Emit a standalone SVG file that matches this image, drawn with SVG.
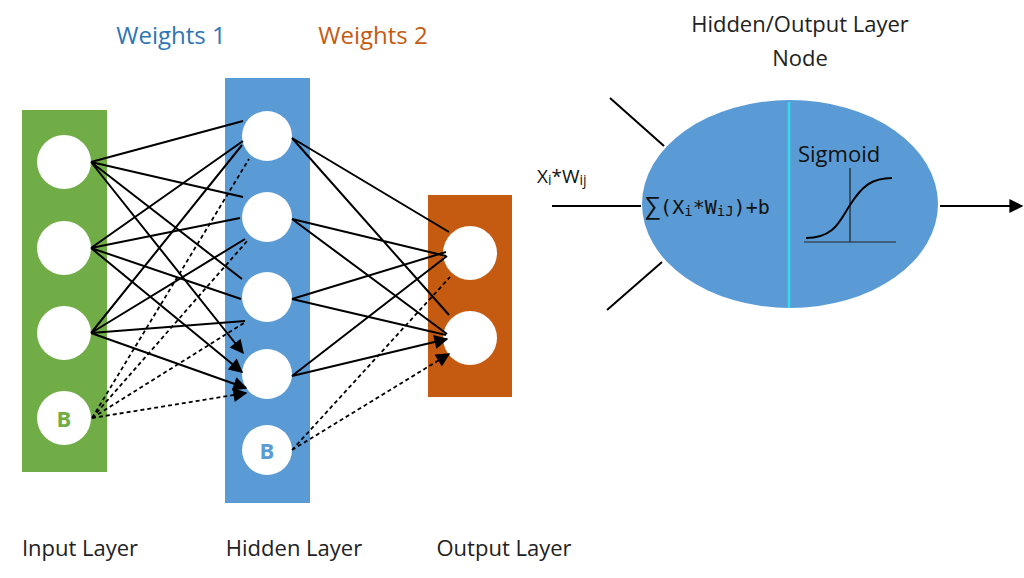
<svg xmlns="http://www.w3.org/2000/svg" width="1024" height="578" viewBox="0 0 1024 578">
<defs>
<marker id="ah" viewBox="0 0 10 10" refX="9" refY="5" markerWidth="6" markerHeight="6" markerUnits="userSpaceOnUse" orient="auto"><path d="M0,0L10,5L0,10z" fill="#000"/></marker>
<marker id="ahb" viewBox="0 0 10 10" refX="9" refY="5" markerWidth="18" markerHeight="14" markerUnits="userSpaceOnUse" orient="auto"><path d="M0,0L10,5L0,10z" fill="#000"/></marker>
</defs>
<style>
text{font-family:"Open Sans","Liberation Sans",sans-serif}
.n{fill:#fff}
.e{stroke:#000;stroke-width:2;fill:none;marker-end:url(#ahb)}
.d{stroke:#000;stroke-width:1.8;fill:none;stroke-dasharray:4,3;marker-end:url(#ahb)}
.lbl{font-size:22px;fill:#222}
</style>
<rect width="1024" height="578" fill="#fff"/>
<g id="input-layer"><rect x="22" y="110" width="85" height="362" fill="#70ad47"/>
<circle class="n" cx="64" cy="162" r="27"/><circle class="n" cx="64" cy="248" r="27"/><circle class="n" cx="64" cy="333" r="27"/><circle class="n" cx="64" cy="418" r="27"/>
<text x="64" y="427" font-size="22" font-weight="bold" fill="#70ad47" text-anchor="middle">B</text></g>
<g id="hidden-layer"><rect x="225" y="78" width="85" height="425" fill="#5b9bd5"/>
<circle class="n" cx="267" cy="136" r="25"/><circle class="n" cx="267" cy="217" r="25"/><circle class="n" cx="267" cy="297" r="25"/><circle class="n" cx="267" cy="374" r="25"/><circle class="n" cx="267" cy="450" r="25"/>
<text x="267" y="459" font-size="22" font-weight="bold" fill="#5b9bd5" text-anchor="middle">B</text></g>
<g id="output-layer"><rect x="428" y="195" width="84" height="202" fill="#c55a11"/>
<circle class="n" cx="470" cy="253" r="27"/><circle class="n" cx="470" cy="338" r="27"/></g>
<g id="connectors">
<path class="e" d="M91,162L243,121M91,162L243,197M91,162L242,279M91,162L243,353"/>
<path class="e" d="M91,248L243,141M91,248L240,218M91,248L241,299M91,248L242,372"/>
<path class="e" d="M91,333L242,145M91,333L245,239M91,333L245,321M91,333L246,388"/>
<path class="d" d="M92,418L249,159M92,418L248,240M92,418L244,323M92,418L246,393"/>
<path class="e" d="M292,138L449,232M292,138L449,315M292,219L446,256M292,219L447,334M292,299L446,252M292,299L446,335M292,376L447,256M292,376L447,339"/>
<path class="d" d="M292,450L450,277M292,450L449,354"/>
</g>
<g id="labels">
<text x="171" y="44" font-size="24" fill="#2e75b6" text-anchor="middle">Weights 1</text>
<text x="373" y="44" font-size="24" fill="#c55a11" text-anchor="middle">Weights 2</text>
<text x="80" y="556" class="lbl" text-anchor="middle">Input Layer</text>
<text x="294" y="556" class="lbl" text-anchor="middle">Hidden Layer</text>
<text x="504" y="556" class="lbl" text-anchor="middle">Output Layer</text>
</g>
<g id="neuron">
<text x="800" y="32" class="lbl" text-anchor="middle">Hidden/Output Layer</text>
<text x="800" y="66" class="lbl" text-anchor="middle">Node</text>
<ellipse cx="790" cy="204" rx="148" ry="104" fill="#5b9bd5"/>
<line x1="789" y1="102" x2="789" y2="308" stroke="#33ddee" stroke-width="2.5"/>
<text x="798" y="162" font-size="22" fill="#111">Sigmoid</text>
<line x1="804" y1="242" x2="896" y2="242" stroke="#222" stroke-width="1.2"/>
<line x1="850" y1="168" x2="850" y2="242" stroke="#222" stroke-width="1.2"/>
<path d="M806,238C835,238 840,220 850,205C862,186 872,178 892,178" stroke="#000" stroke-width="2" fill="none"/>
<text x="645" y="214" font-size="20" fill="#111"><tspan font-size="24">∑</tspan><tspan font-family="DejaVu Sans Mono, Liberation Mono, monospace">(X<tspan font-size="14" dy="2">i</tspan><tspan dy="-2">*W</tspan><tspan font-size="14" dy="2">iJ</tspan><tspan dy="-2">)+b</tspan></tspan></text>
<text x="537" y="183" font-size="19" fill="#111" font-family="DejaVu Sans Mono, Liberation Mono, monospace">X<tspan font-size="14" dy="2">i</tspan><tspan dy="-2">*W</tspan><tspan font-size="14" dy="2">ij</tspan></text>
<path class="e" d="M610,98L664,146M552,206L641,206M607,310L662,262M940,206L1022,206"/>
</g>
</svg>
